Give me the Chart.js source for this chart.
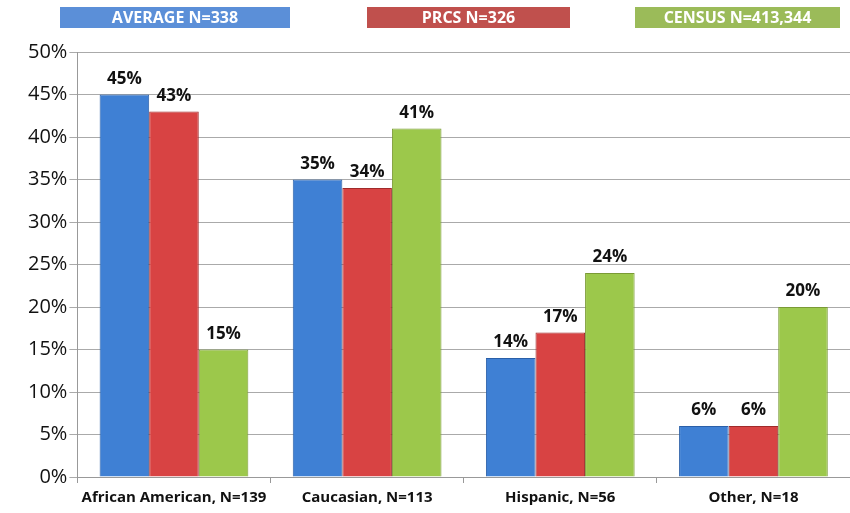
<!DOCTYPE html>
<html>
<head>
<meta charset="utf-8">
<script src="https://cdn.jsdelivr.net/npm/chart.js@4.4.0/dist/chart.umd.min.js"></script>
<style>
  html, body { margin: 0; padding: 0; background: #fff; }
  #wrap { width: 850px; height: 513px; }
</style>
</head>
<body>
<div id="wrap"><canvas id="myChart" width="850" height="513"></canvas></div>
<script>
  // DATA
  const categories = ['African American, N=139', 'Caucasian, N=113', 'Hispanic, N=56', 'Other, N=18'];
  const averageValues = [45, 35, 14, 6];
  const prcsValues = [43, 34, 17, 6];
  const censusValues = [15, 41, 24, 20];
  const seriesNames = ['AVERAGE N=338', 'PRCS N=326', 'CENSUS N=413,344'];
  const yTicks = [0, 5, 10, 15, 20, 25, 30, 35, 40, 45, 50];

  // bar fill, bar border, legend box colour
  const barColors = [
    ['#3f80d4', '#2a5fa8', '#5b8fd8'],
    ['#d84343', '#a02a2a', '#c0504d'],
    ['#9cc84b', '#7a9a35', '#9bbb59']
  ];

  // legend boxes at top, drawn on canvas
  const boxLegend = {
    id: 'boxLegend',
    afterDraw(chart) {
      const c = chart.ctx;
      const boxes = [[60, 290], [367, 570], [635, 840]];
      c.save();
      c.font = 'bold 16px "Open Sans", sans-serif';
      c.textAlign = 'center';
      c.textBaseline = 'middle';
      boxes.forEach((b, i) => {
        c.fillStyle = barColors[i][2];
        c.fillRect(b[0], 7, b[1] - b[0], 21);
        c.fillStyle = '#fff';
        c.fillText(seriesNames[i], (b[0] + b[1]) / 2, 18);
      });
      c.restore();
    }
  };

  // percentage labels above bars
  const valueLabels = {
    id: 'valueLabels',
    afterDatasetsDraw(chart) {
      const c = chart.ctx;
      c.save();
      c.font = 'bold 17px "Open Sans", sans-serif';
      c.fillStyle = '#111';
      c.textAlign = 'center';
      c.textBaseline = 'bottom';
      chart.data.datasets.forEach((ds, i) => {
        chart.getDatasetMeta(i).data.forEach((bar, j) => {
          c.fillText(ds.data[j] + '%', bar.x, bar.y - 7);
        });
      });
      c.restore();
    }
  };

  const data = {
    labels: categories,
    datasets: seriesNames.map((name, i) => ({
      label: name,
      data: [averageValues, prcsValues, censusValues][i],
      backgroundColor: barColors[i][0],
      borderColor: barColors[i][1],
      borderWidth: 1
    }))
  };

  const config = {
    type: 'bar',
    data,
    options: {
      responsive: false,
      animation: false,
      layout: { padding: { top: 52, right: -10, left: 26, bottom: 0 } },
      datasets: { bar: { categoryPercentage: 0.77, barPercentage: 1 } },
      plugins: {
        legend: { display: false },
        tooltip: { enabled: false }
      },
      scales: {
        x: {
          grid: { drawOnChartArea: false, drawTicks: true, tickLength: 6, color: '#999' },
          border: { color: '#999' },
          ticks: { color: '#111', font: { size: 15, weight: 'bold', family: '"Open Sans", sans-serif' }, padding: 6, maxRotation: 0, minRotation: 0, autoSkip: false }
        },
        y: {
          min: 0,
          max: 50,
          afterBuildTicks: axis => { axis.ticks = yTicks.map(v => ({ value: v })); },
          grid: { color: '#aaa', tickLength: 8 },
          border: { color: '#999' },
          ticks: { color: '#111', font: { size: 20, family: '"Open Sans", sans-serif' }, padding: 2, callback: v => v + '%' }
        }
      }
    },
    plugins: [boxLegend, valueLabels]
  };

  var myChart = new Chart(document.getElementById('myChart'), config);
</script>
</body>
</html>
